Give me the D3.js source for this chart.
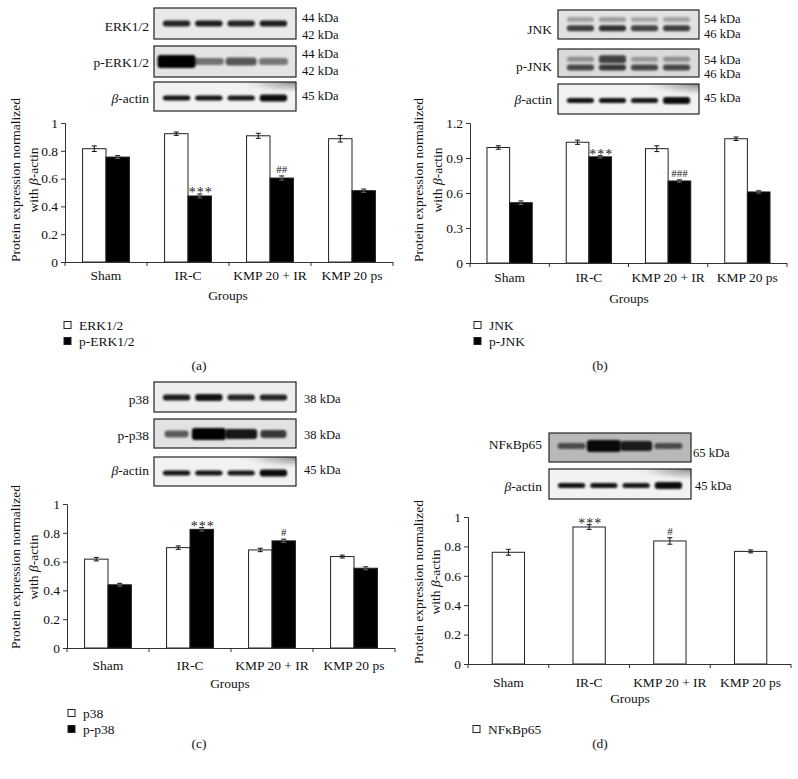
<!DOCTYPE html>
<html>
<head>
<meta charset="utf-8">
<script src="https://cdn.jsdelivr.net/npm/d3@7"></script>
<style>
  html, body { margin: 0; padding: 0; background: #fff; }
  svg { display: block; }
  text { font-family: "Liberation Serif", "DejaVu Serif", serif; fill: #111; }
</style>
</head>
<body>
<svg id="fig" width="798" height="779"></svg>
<script>
// ---------------- DATA ----------------
const groups = ["Sham", "IR-C", "KMP 20 + IR", "KMP 20 ps"];

// (a) ERK
const erk = [0.815, 0.923, 0.908, 0.887];
const erkErr = [0.020, 0.012, 0.018, 0.024];
const pErk = [0.755, 0.475, 0.604, 0.513];
const pErkErr = [0.010, 0.014, 0.015, 0.012];
const sigA = ["", "***", "##", ""];
const ticksA = [0, 0.2, 0.4, 0.6, 0.8, 1];

// (b) JNK
const jnk = [0.990, 1.035, 0.980, 1.065];
const jnkErr = [0.015, 0.018, 0.025, 0.015];
const pJnk = [0.517, 0.910, 0.703, 0.609];
const pJnkErr = [0.015, 0.010, 0.010, 0.010];
const sigB = ["", "***", "###", ""];
const ticksB = [0, 0.3, 0.6, 0.9, 1.2];

// (c) p38
const p38 = [0.617, 0.697, 0.681, 0.635];
const p38Err = [0.012, 0.012, 0.012, 0.010];
const pP38 = [0.439, 0.824, 0.744, 0.554];
const pP38Err = [0.010, 0.012, 0.012, 0.010];
const sigC = ["", "***", "#", ""];
const ticksC = [0, 0.2, 0.4, 0.6, 0.8, 1];

// (d) NF-kB p65
const nfkb = [0.760, 0.932, 0.837, 0.766];
const nfkbErr = [0.020, 0.016, 0.022, 0.010];
const sigD = ["", "***", "#", ""];
const ticksD = [0, 0.2, 0.4, 0.6, 0.8, 1];

// western blot band intensities (lanes: Sham, IR-C, KMP 20 + IR, KMP 20 ps)
const erkBand = [0.85, 0.88, 0.85, 0.88];
const pErkBand = [1.0, 0.5, 0.62, 0.48];
const jnkUpper = [0.28, 0.3, 0.25, 0.28];
const jnkLower = [0.72, 0.78, 0.7, 0.72];
const pJnkUpper = [0.35, 0.7, 0.3, 0.35];
const pJnkLower = [0.68, 0.75, 0.68, 0.68];
const p38Band = [0.88, 0.92, 0.85, 0.85];
const pP38Band = [0.6, 1.0, 0.9, 0.75];
const nfkbBand = [0.6, 0.95, 0.85, 0.6];
const actinBand = [0.92, 0.92, 0.9, 0.95];

// ---------------- DRAWING ----------------
const svg = d3.select("#fig");
svg.append("rect").attr("width", 798).attr("height", 779).attr("fill", "#fff");

const defs = svg.append("defs");
defs.append("filter").attr("id", "blur").attr("x", "-30%").attr("y", "-100%").attr("width", "160%").attr("height", "300%")
  .append("feGaussianBlur").attr("stdDeviation", 1.3);
const rg = defs.append("radialGradient").attr("id", "stain").attr("cx", 1).attr("cy", 0).attr("r", 0.45);
rg.append("stop").attr("offset", 0).attr("stop-color", "#7a7a7a").attr("stop-opacity", 0.9);
rg.append("stop").attr("offset", 0.5).attr("stop-color", "#a8a8a8").attr("stop-opacity", 0.5);
rg.append("stop").attr("offset", 1).attr("stop-color", "#ffffff").attr("stop-opacity", 0);

const FS = 13.5;   // general text
const KFS = 12.5;  // kDa labels

function drawBlot(b) {
  const g = svg.append("g");
  g.append("rect").attr("x", b.x).attr("y", b.y).attr("width", b.w).attr("height", b.h).attr("fill", b.bg);
  if (b.stain) {
    g.append("rect").attr("x", b.x).attr("y", b.y).attr("width", b.w).attr("height", b.h).attr("fill", "url(#stain)");
  }
  const lane = d3.scaleBand().domain(d3.range(4)).range([b.x + 4, b.x + b.w - 4]).padding(0.15);
  b.bands.forEach(band => {
    g.selectAll(null).data(band.vals).enter().append("rect")
      .attr("x", (d, i) => lane(i) + lane.bandwidth() / 2 - (band.wd ? band.wd[i] : lane.bandwidth()) / 2)
      .attr("width", (d, i) => band.wd ? band.wd[i] : lane.bandwidth())
      .attr("y", (d, i) => b.y + b.h * band.fy - (band.th[i] || band.th[0]) / 2)
      .attr("height", (d, i) => band.th[i] || band.th[0])
      .attr("rx", 3)
      .attr("fill", "#000")
      .attr("opacity", d => d)
      .attr("filter", "url(#blur)");
  });
  g.append("rect").attr("x", b.x).attr("y", b.y).attr("width", b.w).attr("height", b.h)
    .attr("fill", "none").attr("stroke", "#222").attr("stroke-width", 1.2);
  const lab = svg.append("text").attr("x", b.x - b.labGap).attr("y", b.labY).attr("dy", "0.35em")
    .attr("text-anchor", "end").attr("font-size", FS);
  if (b.beta) {
    lab.append("tspan").attr("font-style", "italic").text("β");
    lab.append("tspan").text("-actin");
  } else lab.text(b.label);
  b.kda.forEach(k => {
    svg.append("text").attr("x", b.kdaX).attr("y", k[1]).attr("dy", "0.35em").attr("font-size", KFS).text(k[0]);
  });
}

function drawChart(p) {
  const g = svg.append("g");
  const x = d3.scaleBand().domain(groups).range([p.x0, p.x1]).paddingInner(0).paddingOuter(0);
  const y = d3.scaleLinear().domain([0, p.max]).range([p.yBot, p.yTop]);
  const nSer = p.series.length;
  const bw = x.bandwidth() / (nSer + 1.5);
  const sx = i => x.bandwidth() / 2 - nSer * bw / 2 + i * bw;

  // y axis
  const ya = d3.axisLeft(y).tickValues(p.ticks).tickSize(4).tickPadding(3)
    .tickFormat(d => String(+d.toFixed(1)));
  const yg = g.append("g").attr("transform", `translate(${p.x0},0)`).call(ya);
  yg.selectAll("text").attr("font-size", FS).attr("font-family", "Liberation Serif").attr("fill", "#111");
  yg.selectAll("line,path").attr("stroke", "#333");

  // bars
  p.series.forEach((s, si) => {
    g.selectAll(null).data(s.vals).enter().append("rect")
      .attr("x", (d, i) => x(groups[i]) + sx(si))
      .attr("y", d => y(d))
      .attr("width", bw)
      .attr("height", d => y(0) - y(d))
      .attr("fill", s.fill).attr("stroke", "#222").attr("stroke-width", 1);
    // error bars
    const eg = g.selectAll(null).data(s.vals).enter().append("g");
    eg.append("line")
      .attr("x1", (d, i) => x(groups[i]) + sx(si) + bw / 2).attr("x2", (d, i) => x(groups[i]) + sx(si) + bw / 2)
      .attr("y1", (d, i) => y(d - s.err[i])).attr("y2", (d, i) => y(d + s.err[i]))
      .attr("stroke", s.fill === "#000" ? "#666" : "#111").attr("stroke-width", 1);
    [-1, 1].forEach(sg => {
      eg.append("line")
        .attr("x1", (d, i) => x(groups[i]) + sx(si) + bw / 2 - 2.5).attr("x2", (d, i) => x(groups[i]) + sx(si) + bw / 2 + 2.5)
        .attr("y1", (d, i) => y(d + sg * s.err[i])).attr("y2", (d, i) => y(d + sg * s.err[i]))
        .attr("stroke", s.fill === "#000" && sg < 0 ? "#666" : "#111").attr("stroke-width", 1);
    });
    // significance
    if (s.sig) {
      g.selectAll(null).data(s.vals).enter().append("text")
        .attr("transform", (d, i) => `translate(${x(groups[i]) + sx(si) + bw / 2 + (s.sig[i].startsWith("*") ? 1 : 0)},${y(d + s.err[i]) - (s.sig[i].startsWith("#") ? 3 : -3)}) rotate(0.01)`)
        .attr("text-anchor", "middle")
        .attr("font-size", (d, i) => s.sig[i].startsWith("*") ? 14 : 11)
        .attr("letter-spacing", (d, i) => s.sig[i].startsWith("*") ? 1 : 0)
        .style("fill", "#222")
        .text((d, i) => s.sig[i]);
    }
  });

  // x axis
  g.append("line").attr("x1", p.x0).attr("x2", p.x1).attr("y1", p.yBot + 0.5).attr("y2", p.yBot + 0.5).attr("stroke", "#333");
  const bounds = groups.map(c => x(c)).concat([p.x1]);
  g.selectAll(null).data(bounds).enter().append("line")
    .attr("x1", d => d).attr("x2", d => d).attr("y1", p.yBot).attr("y2", p.yBot + 4).attr("stroke", "#333");
  g.selectAll(null).data(groups).enter().append("text")
    .attr("x", d => x(d) + x.bandwidth() / 2).attr("y", p.catY).attr("dy", "0.35em")
    .attr("text-anchor", "middle").attr("font-size", FS).text(d => d);
  g.append("text").attr("x", p.grpX).attr("y", p.grpY).attr("dy", "0.35em")
    .attr("text-anchor", "middle").attr("font-size", FS).text("Groups");

  // y title
  const cy = p.titleY;
  g.append("text").attr("transform", `translate(${p.t1x},${cy}) rotate(-90)`).attr("dy", "0.35em")
    .attr("text-anchor", "middle").attr("font-size", FS).text("Protein expression normalized");
  const t2 = g.append("text").attr("transform", `translate(${p.t2x},${cy}) rotate(-90)`).attr("dy", "0.35em")
    .attr("text-anchor", "middle").attr("font-size", FS);
  t2.append("tspan").text("with ");
  t2.append("tspan").attr("font-style", "italic").text("β");
  t2.append("tspan").text("-actin");

  // legend
  p.series.forEach((s, si) => {
    const ly = p.legY + si * 16;
    g.append("rect").attr("x", p.legX).attr("y", ly - 3.5).attr("width", 7).attr("height", 7)
      .attr("fill", s.fill).attr("stroke", "#222").attr("stroke-width", 1);
    g.append("text").attr("x", p.legX + 15).attr("y", ly).attr("dy", "0.35em").attr("font-size", FS).text(s.name);
  });
  g.append("text").attr("x", p.capX).attr("y", p.capY).attr("dy", "0.35em").attr("text-anchor", "middle")
    .attr("font-size", FS).text(p.cap);
}

// ---- Blots ----
drawBlot({ x: 154, y: 8, w: 142, h: 31, bg: "#e9e9e9", label: "ERK1/2", labGap: 5, labY: 26,
  bands: [{ fy: 0.5, vals: erkBand, th: [6] }], kdaX: 302, kda: [["44 kDa", 18], ["42 kDa", 35]] });
drawBlot({ x: 154, y: 46, w: 142, h: 31, bg: "#e4e4e4", label: "p-ERK1/2", labGap: 5, labY: 62,
  bands: [{ fy: 0.5, vals: pErkBand, th: [13, 7, 8, 7], wd: [38, 30, 31, 29] }], kdaX: 302, kda: [["44 kDa", 54], ["42 kDa", 71]] });
drawBlot({ x: 154, y: 82, w: 142, h: 29, bg: "#f2f2f2", stain: true, beta: true, labGap: 5, labY: 98,
  bands: [{ fy: 0.55, vals: actinBand, th: [5, 5, 5, 7] }], kdaX: 302, kda: [["45 kDa", 96]] });

drawBlot({ x: 558, y: 10, w: 141, h: 29, bg: "#e2e2e2", label: "JNK", labGap: 6, labY: 29,
  bands: [{ fy: 0.33, vals: jnkUpper, th: [5] }, { fy: 0.63, vals: jnkLower, th: [6] }], kdaX: 704, kda: [["54 kDa", 19], ["46 kDa", 33.5]] });
drawBlot({ x: 558, y: 49, w: 141, h: 28, bg: "#dadada", label: "p-JNK", labGap: 6, labY: 66,
  bands: [{ fy: 0.37, vals: pJnkUpper, th: [5, 8, 5, 5] }, { fy: 0.66, vals: pJnkLower, th: [6] }], kdaX: 704, kda: [["54 kDa", 59.5], ["46 kDa", 74]] });
drawBlot({ x: 558, y: 84, w: 141, h: 30, bg: "#f2f2f2", stain: true, beta: true, labGap: 6, labY: 99,
  bands: [{ fy: 0.55, vals: actinBand, th: [5, 5, 5, 7] }], kdaX: 704, kda: [["45 kDa", 98]] });

drawBlot({ x: 154, y: 382, w: 142, h: 30, bg: "#eeeeee", label: "p38", labGap: 5, labY: 399,
  bands: [{ fy: 0.52, vals: p38Band, th: [6, 7, 6, 6] }], kdaX: 304, kda: [["38 kDa", 399]] });
drawBlot({ x: 154, y: 419, w: 142, h: 29, bg: "#e2e2e2", label: "p-p38", labGap: 5, labY: 435,
  bands: [{ fy: 0.52, vals: pP38Band, th: [7, 12, 10, 8], wd: [24, 34, 32, 26] }], kdaX: 304, kda: [["38 kDa", 435]] });
drawBlot({ x: 154, y: 457, w: 142, h: 29, bg: "#f2f2f2", stain: true, beta: true, labGap: 5, labY: 470,
  bands: [{ fy: 0.55, vals: actinBand, th: [5, 5, 5, 7] }], kdaX: 304, kda: [["45 kDa", 470]] });

drawBlot({ x: 549, y: 433, w: 142, h: 29, bg: "#b9b9b9", label: "NFκBp65", labGap: 7, labY: 444,
  bands: [{ fy: 0.45, vals: nfkbBand, th: [6, 12, 10, 6], wd: [28, 34, 32, 28] }], kdaX: 693, kda: [["65 kDa", 453]] });
drawBlot({ x: 549, y: 469, w: 142, h: 30, bg: "#f2f2f2", stain: true, beta: true, labGap: 7, labY: 486,
  bands: [{ fy: 0.55, vals: actinBand, th: [5, 5, 5, 7] }], kdaX: 695, kda: [["45 kDa", 486]] });

// ---- Charts ----
drawChart({ x0: 65, x1: 393, yTop: 123, yBot: 262, max: 1, ticks: ticksA,
  series: [{ name: "ERK1/2", vals: erk, err: erkErr, fill: "#fff" },
           { name: "p-ERK1/2", vals: pErk, err: pErkErr, fill: "#000", sig: sigA }],
  catY: 275, grpX: 228, grpY: 295, titleY: 180, t1x: 15, t2x: 33,
  legX: 64, legY: 325, capX: 199, capY: 365, cap: "(a)" });

drawChart({ x0: 470, x1: 787, yTop: 123, yBot: 263, max: 1.2, ticks: ticksB,
  series: [{ name: "JNK", vals: jnk, err: jnkErr, fill: "#fff" },
           { name: "p-JNK", vals: pJnk, err: pJnkErr, fill: "#000", sig: sigB }],
  catY: 277, grpX: 629, grpY: 298, titleY: 180, t1x: 418, t2x: 437,
  legX: 474, legY: 325, capX: 600, capY: 365, cap: "(b)" });

drawChart({ x0: 67, x1: 395, yTop: 504, yBot: 648, max: 1, ticks: ticksC,
  series: [{ name: "p38", vals: p38, err: p38Err, fill: "#fff" },
           { name: "p-p38", vals: pP38, err: pP38Err, fill: "#000", sig: sigC }],
  catY: 665, grpX: 230, grpY: 683, titleY: 567, t1x: 15, t2x: 33,
  legX: 68, legY: 713, capX: 199, capY: 743, cap: "(c)" });

drawChart({ x0: 468, x1: 791, yTop: 517, yBot: 664, max: 1, ticks: ticksD,
  series: [{ name: "NFκBp65", vals: nfkb, err: nfkbErr, fill: "#fff", sig: sigD }],
  catY: 682, grpX: 630, grpY: 698, titleY: 582, t1x: 418, t2x: 435,
  legX: 473, legY: 729, capX: 600, capY: 743, cap: "(d)" });
</script>
</body>
</html>
